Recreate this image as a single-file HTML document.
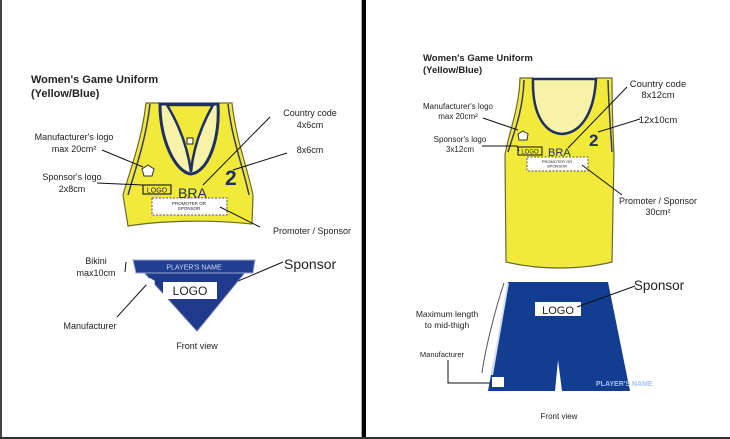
<!DOCTYPE html>
<html><head><meta charset="utf-8"><style>
html,body{margin:0;padding:0;background:#fff}
svg{display:block}
text{font-family:"Liberation Sans",sans-serif;fill:#222}
</style></head><body>
<svg width="730" height="439" viewBox="0 0 730 439" xmlns="http://www.w3.org/2000/svg">
<rect width="730" height="439" fill="#fff"/>
<rect x="0" y="0" width="2" height="439" fill="#444"/>
<rect x="361" y="0" width="1" height="439" fill="#aaa"/>
<rect x="362" y="0" width="4" height="439" fill="#000"/>
<rect x="0" y="437" width="730" height="2" fill="#333"/>

<!-- LEFT -->
<text x="31" y="83" font-size="11" font-weight="bold">Women's Game Uniform</text>
<text x="31" y="97" font-size="11" font-weight="bold">(Yellow/Blue)</text>

<!-- bra -->
<path d="M146,103 L160,103 C160,140 175,172 191,174 C208,172 220,140 218,103 L232,103 C236,140 248,170 253,195 L252,224 C215,220 165,220 128,226 L123,195 C130,170 142,140 146,103Z" fill="#f2ea3a" stroke="#6a6a30" stroke-width="1.2"/>
<path d="M150,104 C146,140 135,170 128,195 M228,104 C232,140 244,170 249,195" stroke="#3a3a70" stroke-width="1.5" fill="none"/>
<path d="M160,104 C160,140 175,172 191,174 C208,172 220,140 218,104 Z" fill="#f6f3a8" stroke="#1f2f66" stroke-width="3"/>
<path d="M167,105 L213,105 C200,128 193,150 191,172 C188,150 181,128 167,105 Z" fill="#f2ea3a" stroke="#1f2f66" stroke-width="2.5"/>
<rect x="187" y="138" width="6" height="6" fill="#fff" stroke="#222"/>
<polygon points="148,165 154,169 152,176 144,176 142,169" fill="#fff" stroke="#333"/>
<rect x="143" y="185" width="28" height="9" fill="#f2ea3a" stroke="#222" stroke-width="1.2"/>
<text x="157" y="192.5" font-size="7" text-anchor="middle">LOGO</text>
<text x="178" y="198" font-size="14" style="fill:#1f2f66">BRA</text>
<text x="225" y="185" font-size="21" font-weight="bold" style="fill:#1f2f66">2</text>
<rect x="152" y="198" width="75" height="17" fill="#fff" stroke="#555" stroke-dasharray="2,1.5"/>
<text x="189" y="205" font-size="4.5" text-anchor="middle">PROMOTER OR</text>
<text x="189" y="210" font-size="4.5" text-anchor="middle">SPONSOR</text>

<g stroke="#111" stroke-width="1" fill="none">
<line x1="270" y1="117" x2="203" y2="185"/>
<line x1="287" y1="153" x2="233" y2="170"/>
<line x1="102" y1="150" x2="143" y2="167"/>
<line x1="97" y1="183" x2="143" y2="185"/>
<line x1="220" y1="207" x2="260" y2="227"/>
<line x1="283" y1="262" x2="217" y2="290"/>
<line x1="117" y1="317" x2="148" y2="283"/>
<line x1="126" y1="262" x2="125" y2="272"/>
</g>
<text x="310" y="116" font-size="9" text-anchor="middle">Country code</text>
<text x="310" y="128" font-size="9" text-anchor="middle">4x6cm</text>
<text x="310" y="153" font-size="9" text-anchor="middle">8x6cm</text>
<text x="74" y="140" font-size="9" text-anchor="middle">Manufacturer's logo</text>
<text x="74" y="152" font-size="9" text-anchor="middle">max 20cm²</text>
<text x="72" y="180" font-size="9" text-anchor="middle">Sponsor's logo</text>
<text x="72" y="192" font-size="9" text-anchor="middle">2x8cm</text>
<text x="312" y="234" font-size="9" text-anchor="middle">Promoter / Sponsor</text>

<!-- bikini -->
<path d="M133,260 L255,260 L197,331 Z" fill="#1f3a8c" stroke="#5a6aa0" stroke-width="1"/>
<path d="M133,260 L255,260 L253,273 L136,273 Z" fill="#223e92" stroke="#9aa6c8" stroke-width="1"/>
<text x="194" y="269.5" font-size="7" text-anchor="middle" style="fill:#cfd8f0">PLAYER'S NAME</text>
<rect x="163" y="282" width="54" height="17" fill="#fff"/>
<text x="190" y="295" font-size="12" text-anchor="middle">LOGO</text>
<polygon points="150,278 155,281 154,287 147,287 145,281" fill="#fff"/>
<text x="96" y="264" font-size="9" text-anchor="middle">Bikini</text>
<text x="96" y="276" font-size="9" text-anchor="middle">max10cm</text>
<text x="284" y="269" font-size="14">Sponsor</text>
<text x="90" y="329" font-size="9" text-anchor="middle">Manufacturer</text>
<text x="197" y="349" font-size="9" text-anchor="middle">Front view</text>

<!-- RIGHT -->
<text x="423" y="61" font-size="9.5" font-weight="bold">Women's Game Uniform</text>
<text x="423" y="73" font-size="9.5" font-weight="bold">(Yellow/Blue)</text>

<path d="M520,78 L533,78 C532,115 545,133 562,134 C580,133 594,115 596,78 L612,78 C612,110 613,135 614,155 L612,262 C580,270 540,270 506,262 L505,155 C508,135 519,110 520,78Z" fill="#f2ea3a" stroke="#6a6a30" stroke-width="1.2"/>
<path d="M524,80 C523,112 513,135 508,152 M608,80 C609,112 611,135 612,152" stroke="#3a3a70" stroke-width="1.5" fill="none"/>
<path d="M533,79 C532,115 545,133 562,134 C580,133 594,115 596,79 Z" fill="#f6f3a8" stroke="#1f2f66" stroke-width="2.5"/>
<polygon points="523,131 528,134 527,140 519,140 518,134" fill="#fff" stroke="#333"/>
<rect x="518" y="147" width="24" height="8" fill="#f2ea3a" stroke="#222" stroke-width="1.1"/>
<text x="530" y="153.5" font-size="6" text-anchor="middle">LOGO</text>
<text x="548" y="156" font-size="11" style="fill:#1f2f66">BRA</text>
<text x="589" y="146" font-size="17" font-weight="bold" style="fill:#1f2f66">2</text>
<rect x="527" y="157" width="61" height="14" fill="#fff" stroke="#555" stroke-dasharray="2,1.5"/>
<text x="557" y="163" font-size="4" text-anchor="middle">PROMOTER OR</text>
<text x="557" y="167.5" font-size="4" text-anchor="middle">SPONSOR</text>

<!-- shorts -->
<path d="M508,282 L608,282 L630,391 L562,391 L558,360 L555,391 L488,391 Z" fill="#123d91"/>
<path d="M504,283 C495,310 485,350 482,373" stroke="#555" stroke-width="1" fill="none"/>
<path d="M508,283 L492,375" stroke="#d8e0f0" stroke-width="2"/>
<rect x="535" y="302" width="46" height="14" fill="#fff"/>
<text x="558" y="314" font-size="11" text-anchor="middle">LOGO</text>
<rect x="492" y="377" width="12" height="10" fill="#fff"/>
<text x="596" y="386" font-size="7" font-weight="bold" style="fill:#a8c0f0">PLAYER'S NAME</text>

<g stroke="#111" stroke-width="1" fill="none">
<line x1="627" y1="87" x2="568" y2="148"/>
<line x1="640" y1="119" x2="598" y2="132"/>
<line x1="483" y1="118" x2="518" y2="130"/>
<polyline points="482,146 517,146 519,151"/>
<line x1="582" y1="165" x2="622" y2="195"/>
<line x1="635" y1="286" x2="577" y2="307"/>
<polyline points="448,360 448,383 490,383"/>
</g>
<text x="658" y="87" font-size="9.5" text-anchor="middle">Country code</text>
<text x="658" y="98" font-size="9.5" text-anchor="middle">8x12cm</text>
<text x="658" y="123" font-size="9.5" text-anchor="middle">12x10cm</text>
<text x="458" y="109" font-size="8" text-anchor="middle">Manufacturer's logo</text>
<text x="458" y="119" font-size="8" text-anchor="middle">max 20cm²</text>
<text x="460" y="142" font-size="8" text-anchor="middle">Sponsor's logo</text>
<text x="460" y="152" font-size="8" text-anchor="middle">3x12cm</text>
<text x="658" y="204" font-size="9" text-anchor="middle">Promoter / Sponsor</text>
<text x="658" y="215" font-size="9" text-anchor="middle">30cm²</text>
<text x="659" y="290" font-size="13.5" text-anchor="middle">Sponsor</text>
<text x="447" y="317" font-size="8.5" text-anchor="middle">Maximum  length</text>
<text x="447" y="328" font-size="8.5" text-anchor="middle">to mid-thigh</text>
<text x="442" y="357" font-size="7.5" text-anchor="middle">Manufacturer</text>
<text x="559" y="419" font-size="8" text-anchor="middle">Front view</text>
</svg>
</body></html>
